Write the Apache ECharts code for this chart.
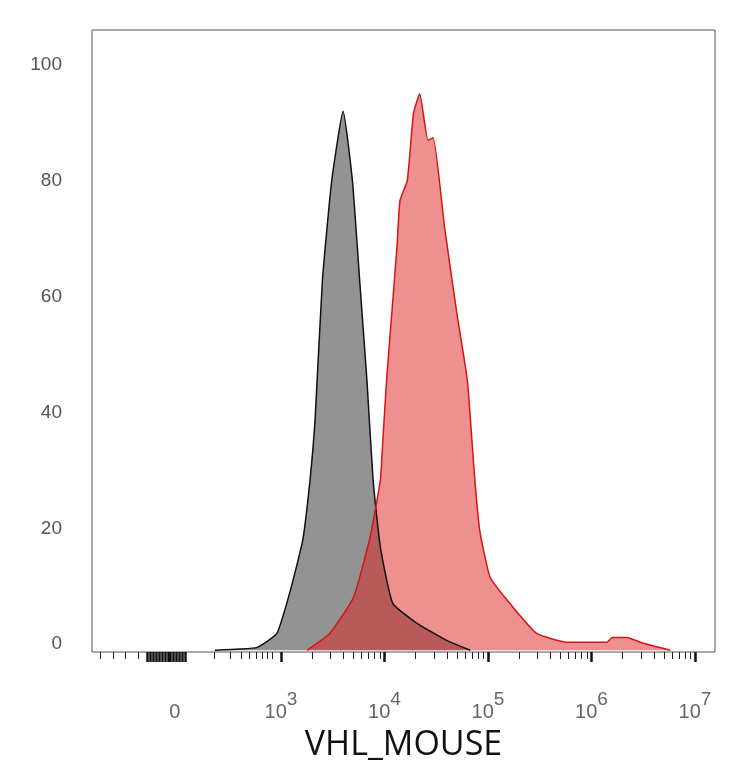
<!DOCTYPE html>
<html><head><meta charset="utf-8">
<script src="https://cdn.jsdelivr.net/npm/echarts@6/dist/echarts.min.js"></script>
<style>html,body{margin:0;padding:0;background:#fff}#c{width:734px;height:768px}</style>
</head><body><div id="c"></div>
<script>
// x in display units: 2 = "0", 3 = 10^3, 4 = 10^4 ...
const grayX = [2.36,2.60,2.77,2.96,3.09,3.21,3.28,3.33,3.40,3.49,3.60,3.69,3.76,3.83,3.89,3.96,4.08,4.31,4.60,4.83];
const grayY = [0,0.2,0.5,2.9,10.3,19,29.3,40,63.8,81,93,81,63.8,46.6,29.3,17.8,8.1,4.7,1.7,0];
const redX = [3.25,3.47,3.70,3.86,3.96,3.98,4.02,4.07,4.12,4.15,4.22,4.28,4.34,4.42,4.47,4.58,4.70,4.80,4.87,4.92,5.02,5.21,5.47,5.76,6.15,6.20,6.34,6.50,6.76];
const redY = [0,2.9,9.1,19.5,29.3,35,46.6,58,69.5,77.6,81,92.6,96,88,88.4,73,58,46.6,30,20.7,12.6,8.1,2.9,1.4,1.4,2.2,2.2,1.2,0];
const xLabelPos = [2,3,4,5,6,7];
const xLabelText = ['0|','10|3','10|4','10|5','10|6','10|7'];
const yTicks = [0,20,40,60,80,100];

const minor = [];
for (let d = 3; d < 7; d++) for (let k = 2; k < 10; k++) minor.push(d + Math.log10(k));
for (let k = 2; k < 10; k++) minor.push(2.1 + Math.log10(k)*0.85);
minor.push(1.25,1.38,1.5,1.62);
const dense = [];
for (let i = 0; i < 14; i++) dense.push(1.71 + i*0.028);

const chart = echarts.init(document.getElementById('c'));
const base = {type:'value',min:1.174,max:7.193,position:'bottom',
  axisLine:{show:false,onZero:false},splitLine:{show:false}};
chart.setOption({
  animation:false,
  grid:{left:92,right:19,top:30,bottom:116,show:true,borderColor:'#555',borderWidth:1,outerBoundsMode:'none',containLabel:false},
  xAxis:[Object.assign({},base,{
    name:'VHL_MOUSE',nameLocation:'middle',nameGap:76,
    nameTextStyle:{fontSize:34,color:'#111',fontFamily:'Open Sans'},
    axisTick:{show:true,customValues:minor,length:7,lineStyle:{color:'#222',width:1}},
    axisLabel:{customValues:xLabelPos,margin:38,color:'#555',
      formatter:v=>{const i=xLabelPos.indexOf(v);const p=xLabelText[i].split('|');
        return '{b|'+p[0]+'}{s|'+(p[1]||' ')+'}';},
      rich:{b:{fontSize:20,color:'#666',fontFamily:'Liberation Sans'},s:{fontSize:19,color:'#666',padding:[0,0,26,0],fontFamily:'Liberation Sans'}}}
  }),Object.assign({},base,{
    axisTick:{show:true,customValues:xLabelPos.slice(1).concat(dense),length:10,lineStyle:{color:'#111',width:2.5}},
    axisLabel:{show:false}
  })],
  yAxis:{type:'value',min:-0.3,max:107,
    axisLine:{show:false},axisTick:{show:false},splitLine:{show:false},
    axisLabel:{customValues:yTicks,fontSize:19,color:'#555',margin:30,verticalAlign:'bottom',lineHeight:12,fontFamily:'Liberation Sans'}},
  series:[
    {type:'line',data:grayX.map((x,i)=>[x,grayY[i]]),symbol:'none',smooth:0.15,
      lineStyle:{color:'#111',width:1.5},areaStyle:{color:'#939393',opacity:1}},
    {type:'line',data:redX.map((x,i)=>[x,redY[i]]),symbol:'none',smooth:0.15,
      lineStyle:{color:'#d41515',width:1.5},areaStyle:{color:'#dd2222',opacity:0.5}}
  ]
});
</script></body></html>
